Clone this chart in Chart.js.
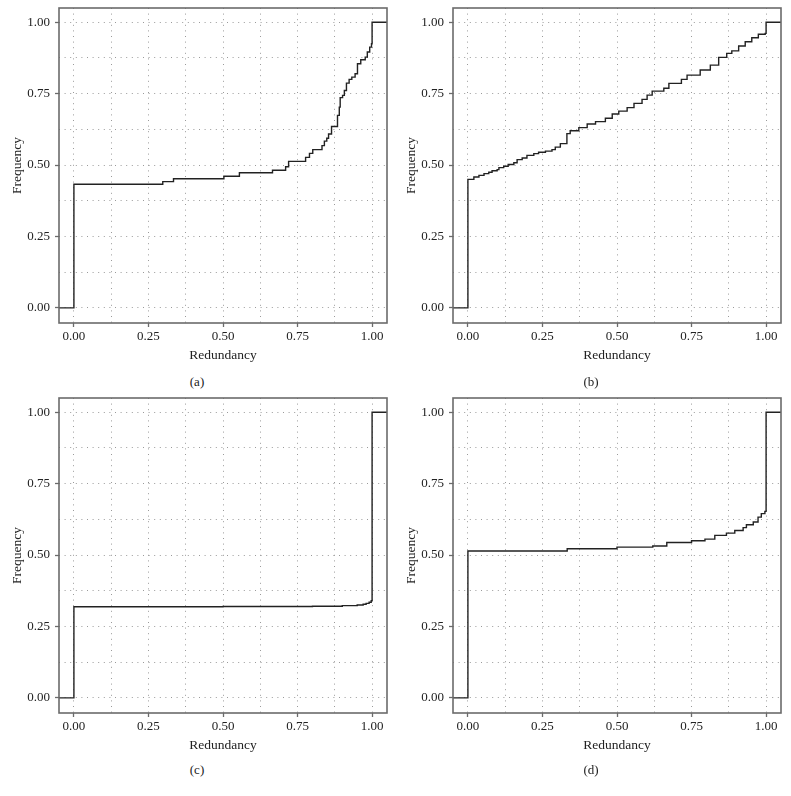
<!DOCTYPE html>
<html>
<head>
<meta charset="utf-8">
<script src="https://cdn.jsdelivr.net/npm/chart.js@4"></script>
<style>
    body { margin: 0; background: #fff; }
    #wrap { position: relative; width: 791px; height: 796px; overflow: hidden; }
    canvas { position: absolute; }
    .cap {
        position: absolute;
        width: 100px;
        height: 16px;
        line-height: 16px;
        text-align: center;
        font: 13px "Liberation Serif", "DejaVu Serif", serif;
        color: #222;
    }
</style>
</head>
<body>
<div id="wrap">
    <canvas id="chartA" width="395" height="365" style="left:0px;top:0px"></canvas>
    <canvas id="chartB" width="395" height="365" style="left:394px;top:0px"></canvas>
    <canvas id="chartC" width="395" height="365" style="left:0px;top:390px"></canvas>
    <canvas id="chartD" width="395" height="365" style="left:394px;top:390px"></canvas>
    <div class="cap" style="left:147px;top:374px">(a)</div>
    <div class="cap" style="left:541px;top:374px">(b)</div>
    <div class="cap" style="left:147px;top:762px">(c)</div>
    <div class="cap" style="left:541px;top:762px">(d)</div>
</div>
<script>
// Step points (ECDF)
const aRedundancy = [-0.05, 0, 0.298, 0.334, 0.503, 0.555, 0.666, 0.71, 0.72, 0.777, 0.79, 0.801, 0.832, 0.84, 0.848, 0.854, 0.864, 0.884, 0.89, 0.893, 0.901, 0.907, 0.914, 0.923, 0.932, 0.943, 0.951, 0.962, 0.977, 0.984, 0.992, 0.998, 1.0, 1.05];
const aFrequency  = [0, 0.433, 0.442, 0.452, 0.461, 0.473, 0.482, 0.494, 0.513, 0.527, 0.541, 0.554, 0.568, 0.584, 0.594, 0.609, 0.635, 0.674, 0.703, 0.736, 0.744, 0.761, 0.787, 0.8, 0.808, 0.82, 0.855, 0.869, 0.878, 0.896, 0.913, 0.925, 1.0, 1.0];

const bRedundancy = [-0.05, 0, 0.02, 0.037, 0.054, 0.07, 0.081, 0.098, 0.104, 0.12, 0.135, 0.154, 0.165, 0.182, 0.198, 0.221, 0.237, 0.26, 0.282, 0.293, 0.31, 0.332, 0.343, 0.372, 0.4, 0.428, 0.461, 0.484, 0.506, 0.534, 0.557, 0.584, 0.601, 0.618, 0.657, 0.674, 0.716, 0.735, 0.779, 0.813, 0.841, 0.868, 0.885, 0.908, 0.93, 0.952, 0.974, 0.997, 1.0, 1.05];
const bFrequency  = [0, 0.45, 0.458, 0.464, 0.47, 0.475, 0.48, 0.484, 0.491, 0.496, 0.502, 0.508, 0.519, 0.525, 0.534, 0.54, 0.545, 0.549, 0.554, 0.563, 0.575, 0.61, 0.62, 0.631, 0.644, 0.652, 0.664, 0.679, 0.689, 0.701, 0.716, 0.73, 0.745, 0.759, 0.769, 0.786, 0.8, 0.815, 0.833, 0.85, 0.877, 0.891, 0.9, 0.917, 0.932, 0.946, 0.958, 0.961, 1.0, 1.0];

const cRedundancy = [-0.05, 0, 0.5, 0.8, 0.9, 0.95, 0.97, 0.98, 0.99, 0.997, 1.0, 1.05];
const cFrequency  = [0, 0.319, 0.32, 0.321, 0.323, 0.325, 0.328, 0.331, 0.335, 0.34, 1.0, 1.0];

const dRedundancy = [-0.05, 0, 0.333, 0.5, 0.62, 0.667, 0.75, 0.795, 0.828, 0.867, 0.895, 0.923, 0.934, 0.957, 0.973, 0.984, 0.996, 1.0, 1.05];
const dFrequency  = [0, 0.514, 0.522, 0.528, 0.532, 0.544, 0.55, 0.556, 0.569, 0.577, 0.586, 0.596, 0.606, 0.616, 0.633, 0.645, 0.653, 1.0, 1.0];

// Grid lines every 0.125, labels on the 0.25 ones
const gridSteps  = [0, 0.125, 0.25, 0.375, 0.5, 0.625, 0.75, 0.875, 1];
const majorTicks = [0, 0.25, 0.5, 0.75, 1];

const FONT = '"Liberation Serif", "DejaVu Serif", serif';
const isMajor = v => majorTicks.some(m => Math.abs(m - v) < 1e-9);

// ggplot-like full panel frame
const frameBox = {
    id: 'frameBox',
    afterDraw(chart) {
        const { ctx, chartArea: a } = chart;
        ctx.save();
        ctx.strokeStyle = '#6b6b6b';
        ctx.lineWidth = 1.6;
        ctx.strokeRect(a.left, a.top, a.right - a.left, a.bottom - a.top);
        ctx.restore();
    }
};

function axisOpts(title, min, max, isX) {
    return {
        type: 'linear',
        min: min,
        max: max,
        afterBuildTicks: s => { s.ticks = gridSteps.map(v => ({ value: v })); },
        afterFit: s => {
            if (isX) {
                s.height = 42;
                s.paddingLeft = 0;
                s.paddingRight = 0;
            } else {
                s.width = 59;
                s.paddingTop = 0;
                s.paddingBottom = 0;
            }
        },
        border: { display: false, dash: [1, 4.6] },
        grid: {
            color: '#9a9a9a',
            lineWidth: 1,
            tickLength: 4,
            tickWidth: 1.3,
            tickColor: c => (c.tick && isMajor(c.tick.value)) ? '#6b6b6b' : 'rgba(0,0,0,0)'
        },
        ticks: {
            autoSkip: false,
            maxRotation: 0,
            padding: isX ? 2 : 5,
            color: '#222',
            font: { family: FONT, size: 13 },
            callback: v => isMajor(v) ? v.toFixed(2) : ''
        },
        title: {
            display: true,
            text: title,
            color: '#222',
            font: { family: FONT, size: 13.5 },
            padding: isX ? { top: 0, bottom: 1 } : { top: 9, bottom: 0 }
        }
    };
}

function makeChart(id, xs, ys) {
    const ctx = document.getElementById(id).getContext('2d');
    return new Chart(ctx, {
        type: 'line',
        data: {
            datasets: [{
                data: xs.map((x, i) => ({ x: x, y: ys[i] })),
                stepped: 'before',
                borderColor: '#222',
                borderWidth: 1.4,
                pointRadius: 0,
                fill: false
            }]
        },
        options: {
            responsive: false,
            animation: false,
            layout: { padding: { left: 0, top: 8, right: 8, bottom: 0 } },
            plugins: { legend: { display: false }, tooltip: { enabled: false } },
            scales: {
                x: axisOpts('Redundancy', -0.05, 1.05, true),
                y: axisOpts('Frequency', -0.053, 1.05, false)
            }
        },
        plugins: [frameBox]
    });
}

makeChart('chartA', aRedundancy, aFrequency);
makeChart('chartB', bRedundancy, bFrequency);
makeChart('chartC', cRedundancy, cFrequency);
makeChart('chartD', dRedundancy, dFrequency);
</script>
</body>
</html>
